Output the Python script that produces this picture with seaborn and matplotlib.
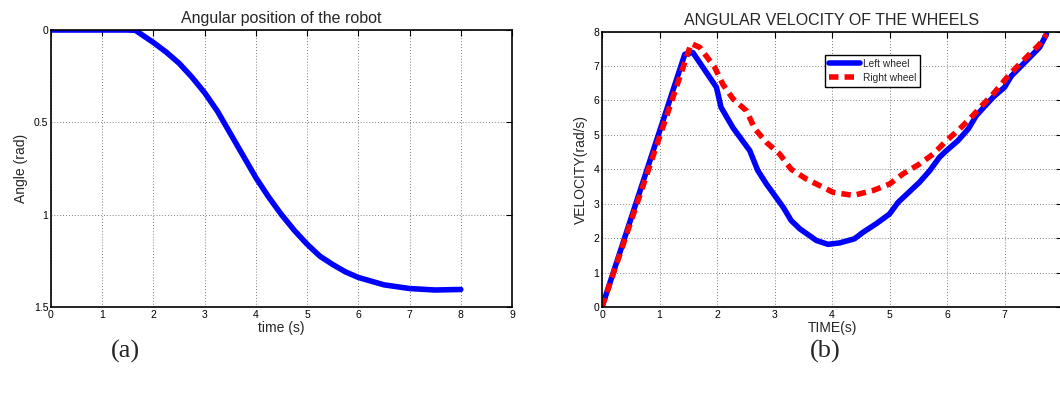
import numpy as np
import pandas as pd
import matplotlib
matplotlib.use("Agg")
import matplotlib.pyplot as plt
import seaborn as sns

# ---- data ----
t_angle = [0.0, 0.5, 1.0, 1.5, 1.65, 2.0, 2.25, 2.5, 2.75, 3.0, 3.25, 3.5, 3.75, 4.0, 4.25,
           4.5, 4.75, 5.0, 5.25, 5.5, 5.75, 6.0, 6.5, 7.0, 7.5, 8.0]
angle = [0.0, 0.0, 0.0, 0.0, 0.002, 0.068, 0.12, 0.18, 0.255, 0.34, 0.44, 0.56, 0.68, 0.80, 0.905,
         1.0, 1.085, 1.16, 1.225, 1.27, 1.31, 1.34, 1.38, 1.40, 1.408, 1.405]

t_left = [0.0, 1.44, 1.58, 1.99, 2.07, 2.28, 2.57, 2.71, 2.86, 3.15, 3.29, 3.44, 3.73, 3.93,
          4.13, 4.39, 4.54, 4.77, 5.0, 5.15, 5.52, 5.7, 5.87, 5.99, 6.19, 6.37, 6.51, 6.8,
          7.0, 7.12, 7.44, 7.61, 7.73]
v_left = [0.0, 7.34, 7.39, 6.38, 5.8, 5.2, 4.54, 3.96, 3.57, 2.9, 2.51, 2.27, 1.93, 1.82,
          1.86, 1.98, 2.17, 2.42, 2.7, 3.04, 3.62, 3.96, 4.35, 4.54, 4.83, 5.17, 5.56, 6.09,
          6.38, 6.71, 7.25, 7.54, 7.92]

t_right = [0.0, 1.55, 1.70, 1.96, 2.10, 2.28, 2.51, 2.66, 2.86, 3.09, 3.29, 3.55, 3.84, 4.02,
           4.37, 4.71, 5.0, 5.23, 5.52, 5.76, 5.99, 6.22, 6.45, 6.63, 6.8, 7.09, 7.38, 7.61, 7.73]
v_right = [0.0, 7.65, 7.54, 6.96, 6.47, 6.04, 5.7, 5.17, 4.78, 4.44, 4.0, 3.72, 3.48, 3.33,
           3.24, 3.38, 3.57, 3.86, 4.15, 4.44, 4.83, 5.17, 5.56, 5.89, 6.18, 6.76, 7.25, 7.63, 7.92]

x_ticks_a = [0, 1, 2, 3, 4, 5, 6, 7, 8, 9]
y_ticks_a = [0, 0.5, 1, 1.5]
y_tick_labels_a = ["0", "0.5", "1", "1.5"]
x_ticks_b = [0, 1, 2, 3, 4, 5, 6, 7, 8]
y_ticks_b = [0, 1, 2, 3, 4, 5, 6, 7, 8]

sns.set_style("white")
plt.rcParams['font.family'] = ['Liberation Sans', 'DejaVu Sans']

fig = plt.figure(figsize=(10.6, 3.93), dpi=100)
ax1 = fig.add_axes([51/1060, 1-307/393, 461/1060, 277/393])
ax2 = fig.add_axes([602/1060, 1-307/393, 460/1060, 275.5/393])

df_a = pd.DataFrame({"t": t_angle, "angle": angle})
sns.lineplot(data=df_a, x="t", y="angle", ax=ax1, color="#0000ff", lw=4.0, sort=False)
ax1.set_xlim(0, 9)
ax1.set_ylim(1.5, 0)
ax1.set_xticks(x_ticks_a)
ax1.set_yticks(y_ticks_a)
ax1.set_yticklabels(y_tick_labels_a)
ax1.set_title("Angular position of the robot", fontsize=11.5, pad=5)
ax1.set_xlabel("time (s)", fontsize=10, labelpad=1)
ax1.set_ylabel("Angle (rad)", fontsize=10, labelpad=4)

df_l = pd.DataFrame({"t": t_left, "v": v_left})
df_r = pd.DataFrame({"t": t_right, "v": v_right})
sns.lineplot(data=df_l, x="t", y="v", ax=ax2, color="#0000ff", lw=4.0, label="Left wheel", sort=False)
sns.lineplot(data=df_r, x="t", y="v", ax=ax2, color="#ff0000", lw=4.0, label="Right wheel",
             sort=False, dashes=False, linestyle=(0, (1.7, 1.1)))
ax2.set_xlim(0, 8)
ax2.set_ylim(0, 8)
ax2.set_xticks(x_ticks_b)
ax2.set_yticks(y_ticks_b)
ax2.set_title("ANGULAR VELOCITY OF THE WHEELS", fontsize=11.5, pad=5)
ax2.set_xlabel("TIME(s)", fontsize=10, labelpad=1)
ax2.set_ylabel("VELOCITY(rad/s)", fontsize=10, labelpad=4)
leg = ax2.legend(loc="upper left", bbox_to_anchor=(0.485, 0.915), fontsize=7.3,
                 frameon=True, fancybox=False, framealpha=1, edgecolor="black",
                 handlelength=3.0, borderpad=0.4, labelspacing=0.35, handletextpad=0.3,
                 borderaxespad=0)
leg.get_frame().set_linewidth(1.0)

for ax in (ax1, ax2):
    ax.grid(True, linestyle=(0, (1, 2.5)), color="#555555", lw=0.6)
    ax.tick_params(direction="in", length=4, width=0.8, labelsize=7.5, pad=2,
                   top=True, right=True, colors="black")
    for s in ax.spines.values():
        s.set_visible(True)
        s.set_color("black")
        s.set_linewidth(1.2)

fig.text(125/1060, 1-351/393, "(a)", fontsize=19, family=["Liberation Serif", "DejaVu Serif"],
         ha="center", va="center")
fig.text(825/1060, 1-351/393, "(b)", fontsize=19, family=["Liberation Serif", "DejaVu Serif"],
         ha="center", va="center")

fig.savefig("out.png", dpi=100)
